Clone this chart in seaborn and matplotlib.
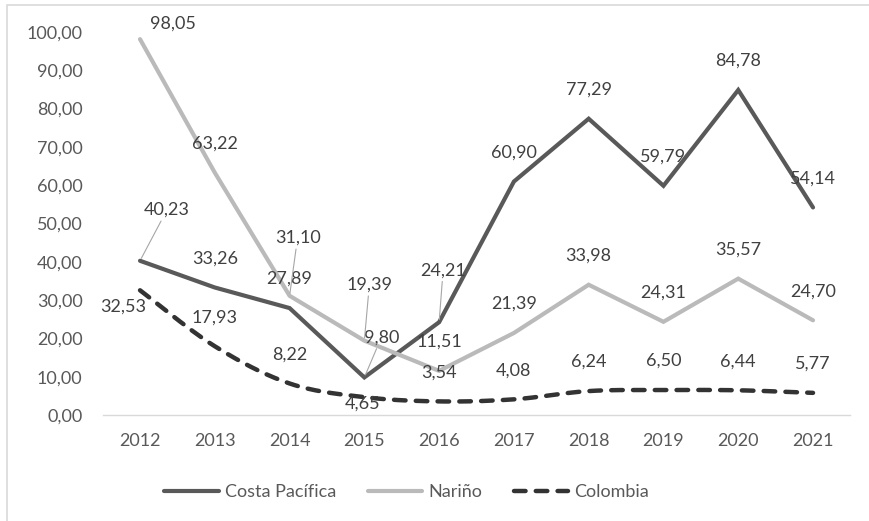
import numpy as np
import pandas as pd
import seaborn as sns
import matplotlib.pyplot as plt
from matplotlib.patches import Rectangle

# datos
years = [2012, 2013, 2014, 2015, 2016, 2017, 2018, 2019, 2020, 2021]
costa_pacifica = [40.23, 33.26, 27.89, 9.80, 24.21, 60.90, 77.29, 59.79, 84.78, 54.14]
narino = [98.05, 63.22, 31.10, 19.39, 11.51, 21.39, 33.98, 24.31, 35.57, 24.70]
colombia = [32.53, 17.93, 8.22, 4.65, 3.54, 4.08, 6.24, 6.50, 6.44, 5.77]
y_ticks = [0, 10, 20, 30, 40, 50, 60, 70, 80, 90, 100]

sns.set_style('white')
plt.rcParams['font.family'] = ['Lato', 'DejaVu Sans']

fs = 13
txt_col = '#595959'
lbl_col = '#404040'

fig = plt.figure(figsize=(8.69, 5.21), dpi=100)
ax = fig.add_axes([0.1181, 0.2035, 0.8605, 0.7357])

df = pd.DataFrame({'year': years, 'cp': costa_pacifica, 'nar': narino})
sns.lineplot(data=df, x='year', y='cp', ax=ax, color='#595959', lw=3,
             label='Costa Pacífica', solid_capstyle='round', solid_joinstyle='miter')
sns.lineplot(data=df, x='year', y='nar', ax=ax, color='#bababa', lw=3,
             label='Nariño', solid_capstyle='round', solid_joinstyle='miter')


# linea suavizada tipo Excel (Catmull-Rom)
def smooth(xs, ys, n=30):
    p = np.column_stack([xs, ys]).astype(float)
    p = np.vstack([p[0], p, p[-1]])
    out = []
    for i in range(1, len(p) - 2):
        p0, p1, p2, p3 = p[i - 1], p[i], p[i + 1], p[i + 2]
        t = np.linspace(0, 1, n)[:, None]
        c1 = p1 + (p2 - p0) / 6
        c2 = p2 - (p3 - p1) / 6
        seg = ((1 - t) ** 3) * p1 + 3 * ((1 - t) ** 2) * t * c1 + 3 * (1 - t) * t ** 2 * c2 + t ** 3 * p2
        out.append(seg if i == 1 else seg[1:])
    out = np.vstack(out)
    return out[:, 0], out[:, 1]


sx, sy = smooth(years, colombia)
ax.plot(sx, sy, color='#333333', lw=3.2, dashes=(2.6, 2.3), dash_capstyle='round',
        label='Colombia')

# etiquetas (offset en pixeles, leader = linea guia)
offsets = {
    'cp': {2012: (27, 51, True), 2015: (17, 40, True), 2016: (4, 52, True)},
    'nar': {2012: (33, 16, False), 2014: (8, 58, True), 2015: (5, 56, True)},
    'col': {2012: (-17, -16, False), 2015: (-2, -6, False)},
}
series = [('cp', costa_pacifica), ('nar', narino), ('col', colombia)]
for key, vals in series:
    for yr, v in zip(years, vals):
        dx, dy, lead = offsets[key].get(yr, (0, 29, False))
        kw = {}
        if lead:
            kw['arrowprops'] = dict(arrowstyle='-', color='#a6a6a6', lw=0.8,
                                    shrinkA=0, shrinkB=2)
        ax.annotate(f'{v:.2f}'.replace('.', ','), (yr, v), xytext=(dx, dy),
                    textcoords='offset pixels', ha='center', va='center',
                    fontsize=fs, color=lbl_col, **kw)

ax.set_xlim(2011.5, 2021.5)
ax.set_ylim(0, 100)
ax.set_xticks(years)
ax.set_xticklabels([str(y) for y in years])
ax.set_yticks(y_ticks)
ax.set_yticklabels([f'{t:.2f}'.replace('.', ',') for t in y_ticks])
ax.tick_params(axis='both', length=0, labelsize=fs, labelcolor=txt_col)
ax.tick_params(axis='y', pad=14.5)
ax.tick_params(axis='x', pad=13)
ax.set_xlabel('')
ax.set_ylabel('')
for s in ['top', 'right', 'left']:
    ax.spines[s].set_visible(False)
ax.spines['bottom'].set_color('#d9d9d9')
ax.spines['bottom'].set_linewidth(1)

leg = ax.legend(loc='center', bbox_to_anchor=(0.468, 0.0557), bbox_transform=fig.transFigure,
                ncol=3, frameon=False, fontsize=fs, handlelength=3.0, handletextpad=0.35,
                columnspacing=1.75)
for t in leg.get_texts():
    t.set_color(txt_col)

# borde del grafico
fig.patches.append(Rectangle((7 / 869, -0.1), 1.2, 1 - 5 / 521 + 0.1, transform=fig.transFigure,
                             fill=False, edgecolor='#d9d9d9', lw=1.2))

fig.savefig('out.png', dpi=100)
